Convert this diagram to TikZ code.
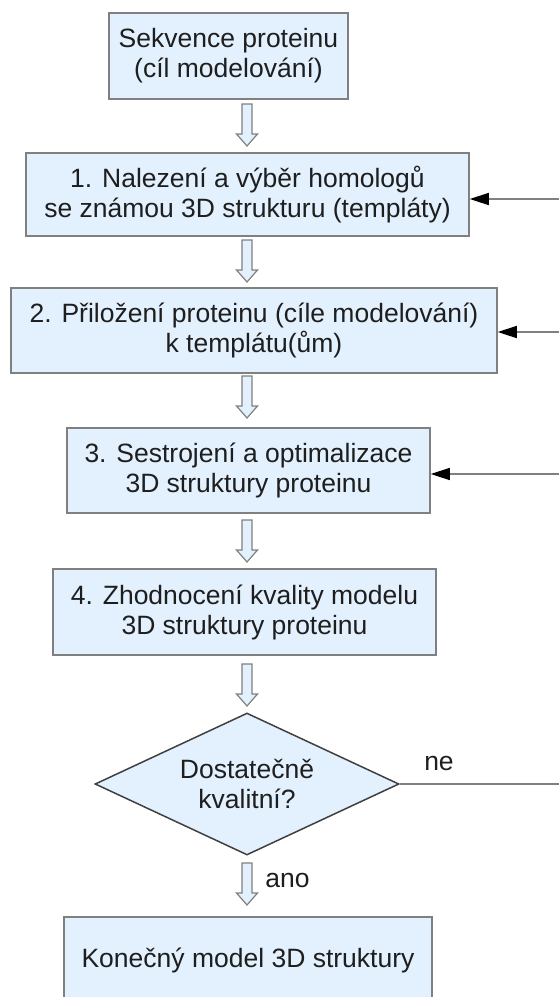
\documentclass[tikz,border=0pt]{standalone}
\usepackage{fontspec}
\setmainfont{Liberation Sans}
\usetikzlibrary{shapes.geometric,arrows.meta}
\definecolor{boxblue}{RGB}{227,240,253}
\definecolor{edgegray}{RGB}{128,128,128}
\definecolor{textdark}{RGB}{30,30,30}
\tikzset{
  box/.style={draw=edgegray, fill=boxblue, line width=1.5pt, align=center, inner sep=0pt,
    font=\fontsize{26.5}{30}\selectfont, text=textdark},
  hollow/.style={draw=edgegray, fill=boxblue, line width=1.2pt, line join=miter},
  feed/.style={draw=edgegray, line width=1.5pt, -{Triangle[length=19pt,width=12pt,color=black]}},
  lbl/.style={font=\fontsize{26.5}{30}\selectfont, text=textdark, inner sep=0pt}
}
% block arrow pointing down, centred on a named coordinate
\newcommand{\blockdown}[1]{\draw[hollow] (#1) ++(-5,-21) -- ++(10,0) -- ++(0,30) -- ++(5.5,0)
  -- ++(-10.5,12) -- ++(-10.5,-12) -- ++(5.5,0) -- cycle;}
\begin{document}
\begin{tikzpicture}[x=1pt, y=-1pt]
\clip (0,0) rectangle (559,997);
\node[box, minimum width=239pt, minimum height=86pt] (a) at (228.5,56) {Sekvence proteinu\\(cíl modelování)};
\node[box, minimum width=443pt, minimum height=83pt] (b) at (247.5,194.5) {1. Nalezení a výběr homologů\\se známou 3D strukturu (templáty)};
\node[box, minimum width=486pt, minimum height=85pt] (c) at (254,330.5) {2. Přiložení proteinu (cíle modelování)\\k templátu(ům)};
\node[box, minimum width=363pt, minimum height=85pt] (d) at (248.5,470.5) {3. Sestrojení a optimalizace\\3D struktury proteinu};
\node[box, minimum width=383pt, minimum height=86pt] (e) at (244.5,612) {4. Zhodnocení kvality modelu\\3D struktury proteinu};
\node[box, diamond, draw=black!75, minimum width=304pt, minimum height=142pt, aspect=2.14] (q) at (247,784) {Dostatečně\\kvalitní?};
\node[box, minimum width=368pt, minimum height=86pt] (f) at (248,960) {Konečný model 3D struktury};
% hollow arrows between the steps
\coordinate (h1) at (247,125);
\coordinate (h2) at (247,261);
\coordinate (h3) at (247,397);
\coordinate (h4) at (247,541);
\coordinate (h5) at (247,685);
\coordinate (h6) at (247,884);
\foreach \h in {h1,h2,h3,h4,h5,h6} {\blockdown{\h}}
\node[lbl] (ano) at (287.5,880) {ano};
\node[lbl] (ne) at (439,763) {ne};
% feedback lines from the right edge
\coordinate (r1) at (559,199);
\coordinate (r2) at (559,332);
\coordinate (r3) at (559,474);
\coordinate (r4) at (559,784);
\draw[feed] (r1) -- (r1 -| b.east);
\draw[feed] (r2) -- (r2 -| c.east);
\draw[feed] (r3) -- (r3 -| d.east);
\draw[draw=edgegray, line width=1.5pt] (q.east) -- (r4);
\end{tikzpicture}
\end{document}
